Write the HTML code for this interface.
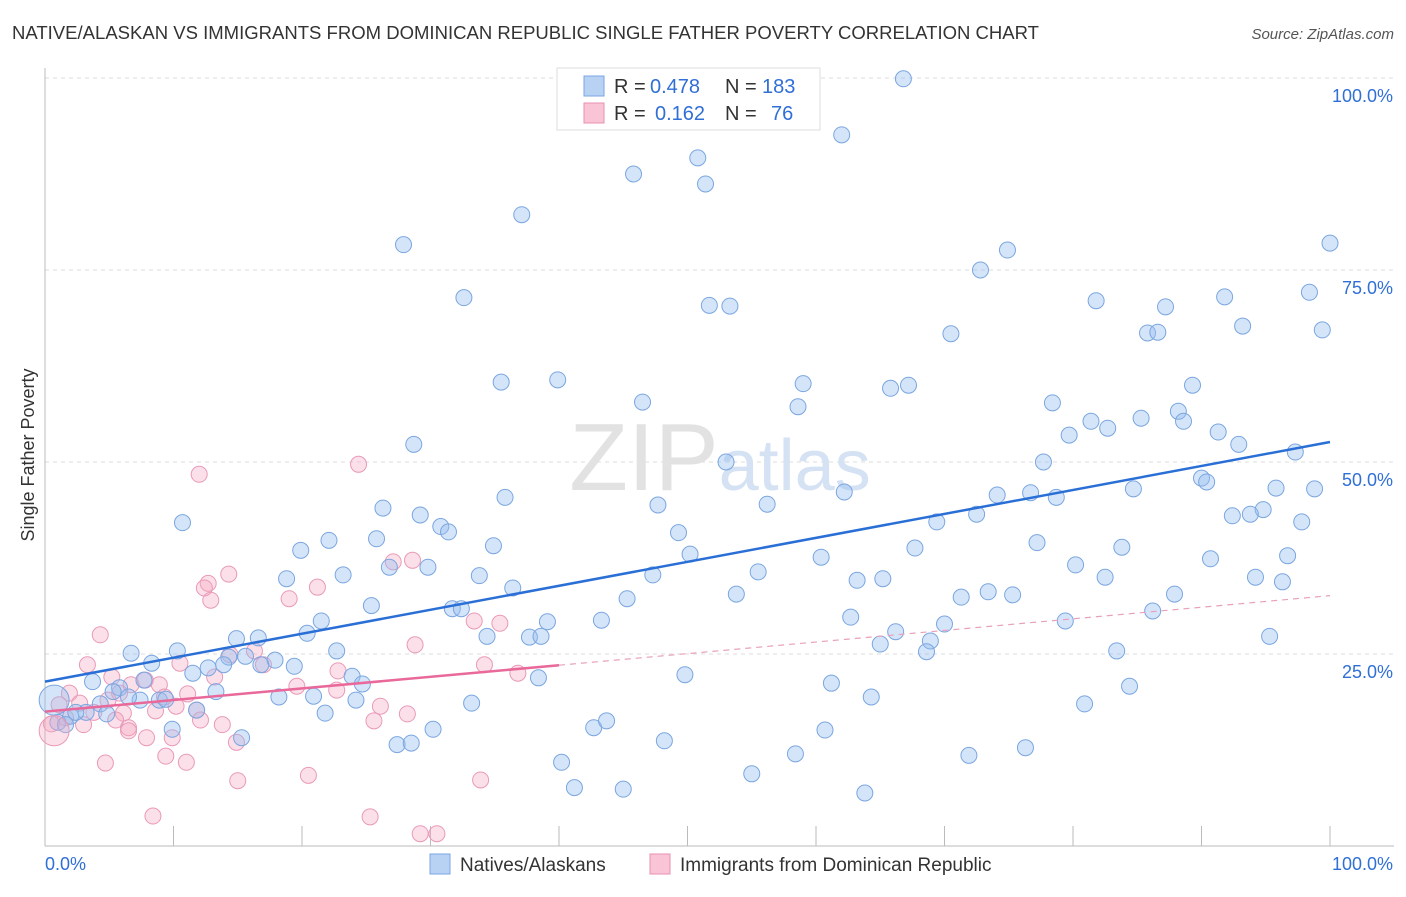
<!DOCTYPE html>
<html><head><meta charset="utf-8">
<style>
body{margin:0;background:#fff;font-family:"Liberation Sans",sans-serif;}
svg text{font-family:"Liberation Sans",sans-serif;}
</style></head>
<body>
<svg id="chart" width="1406" height="892" viewBox="0 0 1406 892">
<text x="12" y="39" font-size="18" fill="#333" textLength="1027" lengthAdjust="spacingAndGlyphs">NATIVE/ALASKAN VS IMMIGRANTS FROM DOMINICAN REPUBLIC SINGLE FATHER POVERTY CORRELATION CHART</text>
<text x="1394" y="39" font-size="15" fill="#555" font-style="italic" text-anchor="end">Source: ZipAtlas.com</text>
<text x="34" y="455" font-size="18" fill="#333" text-anchor="middle" transform="rotate(-90 34 455)">Single Father Poverty</text>
<g id="grid"></g>
<text x="720" y="490" font-size="96" text-anchor="middle" font-family="Liberation Serif"><tspan fill="#e2e2e2">ZIP</tspan><tspan fill="#d4e2f4" font-family="Liberation Sans" font-size="72">atlas</tspan></text>
<g id="pts"></g>
<g id="lines"></g>
<g>
<rect x="557" y="68" width="263" height="62" fill="#fff" stroke="#ddd"/>
<rect x="584" y="76" width="20" height="20" fill="#b8d2f4" stroke="#7aa6e0"/>
<rect x="584" y="103" width="20" height="20" fill="#f8c4d6" stroke="#e890b0"/>
<text x="614" y="93" font-size="20" fill="#333">R =</text>
<text x="650" y="93" font-size="20" fill="#2f6fd6">0.478</text>
<text x="725" y="93" font-size="20" fill="#333">N =</text>
<text x="762" y="93" font-size="20" fill="#2f6fd6">183</text>
<text x="614" y="120" font-size="20" fill="#333">R =</text>
<text x="655" y="120" font-size="20" fill="#2f6fd6">0.162</text>
<text x="725" y="120" font-size="20" fill="#333">N =</text>
<text x="771" y="120" font-size="20" fill="#2f6fd6">76</text>
</g>
<g>
<rect x="430" y="854" width="20" height="20" fill="#b8d2f4" stroke="#7aa6e0"/>
<text x="460" y="871" font-size="19" fill="#333">Natives/Alaskans</text>
<rect x="650" y="854" width="20" height="20" fill="#f8c4d6" stroke="#e890b0"/>
<text x="680" y="871" font-size="19" fill="#333">Immigrants from Dominican Republic</text>
</g>
</svg>
<script>
const blueX=[66.8,62.0,50.8,45.8,51.4,37.1,27.9,100,74.9,72.8,32.6,51.7,53.3,81.8,87.2,91.8,98.4,99.4,70.5,85.8,86.6,93.2,35.5,39.9,59.0,65.8,67.2,89.3,46.5,58.6,78.4,81.4,85.3,88.2,79.7,82.7,88.6,91.3,92.9,97.3,28.7,53.0,77.7,90.0,90.4,84.7,95.8,98.8,62.2,74.1,76.7,78.7,35.8,47.7,56.2,94.8,93.8,92.4,72.5,26.3,29.2,10.7,30.8,31.4,69.4,97.8,25.8,22.1,49.3,77.2,19.9,34.9,50.2,67.7,83.8,96.7,60.4,90.7,80.2,26.8,29.8,55.5,47.3,18.8,23.2,33.8,63.2,65.2,82.5,94.2,96.3,36.4,53.8,71.3,73.4,75.3,87.9,45.3,86.2,25.4,31.7,32.4,43.3,62.7,79.4,21.5,39.1,70.0,20.4,34.4,37.7,38.6,66.2,95.3,14.9,16.6,68.9,65.0,6.7,10.3,22.7,68.6,83.4,8.3,15.6,17.9,14.3,19.4,13.9,12.7,11.5,23.9,24.7,16.8,7.7,49.8,38.4,3.7,61.2,84.4,5.8,5.3,13.3,18.2,20.9,64.3,7.4,6.5,8.9,4.3,9.4,24.2,33.2,80.9,11.8,21.8,3.2,4.8,2.0,2.4,1.0,1.6,9.9,30.2,42.7,43.7,60.7,15.3,48.2,27.4,28.5,76.3,58.4,71.9,40.2,55.0,41.2,45.0,63.8];
const blueY=[99.9,92.6,89.6,87.5,86.2,82.2,78.3,78.5,77.6,75.0,71.4,70.4,70.3,71.0,70.2,71.5,72.1,67.2,66.7,66.8,66.9,67.7,60.4,60.7,60.2,59.6,60.0,60.0,57.8,57.2,57.7,55.3,55.7,56.6,53.5,54.4,55.3,53.9,52.3,51.3,52.3,50.0,50.0,47.9,47.4,46.5,46.6,46.5,46.1,45.7,46.0,45.4,45.4,44.4,44.5,43.8,43.2,43.0,43.2,44.0,43.1,42.1,41.6,40.9,42.2,42.2,40.0,39.8,40.8,39.5,38.5,39.1,38.0,38.8,38.9,37.8,37.6,37.4,36.6,36.3,36.3,35.7,35.3,34.8,35.3,35.2,34.6,34.8,35.0,35.0,34.4,33.6,32.8,32.4,33.1,32.7,32.8,32.2,30.6,31.3,30.9,30.9,29.4,29.8,29.3,29.3,29.2,28.9,27.7,27.3,27.2,27.3,27.9,27.3,27.0,27.1,26.7,26.3,25.1,25.4,25.4,25.3,25.4,23.8,24.7,24.2,24.6,23.4,23.6,23.2,22.5,22.1,21.1,23.6,21.6,22.3,21.9,21.4,21.2,20.8,20.6,20.1,20.1,19.4,19.5,19.4,19.0,19.4,19.0,18.5,19.1,19.0,18.6,18.5,17.7,17.3,17.4,17.2,16.9,17.4,16.1,15.8,15.2,15.2,15.4,16.3,15.1,14.1,13.7,13.2,13.4,12.8,12.0,11.8,10.9,9.4,7.6,7.4,6.9];
const pinkX=[24.4,12.0,14.3,12.7,12.4,12.9,19.0,21.2,27.1,28.6,4.3,28.8,33.4,35.4,3.3,10.5,16.3,14.4,17.0,22.8,34.2,36.8,5.2,6.7,7.8,1.9,5.8,8.9,11.1,13.2,19.6,22.7,9.3,4.9,1.1,2.7,3.8,10.2,11.8,8.6,6.1,26.1,28.2,1.6,5.5,12.1,25.6,0.5,3.0,13.8,6.5,6.5,7.9,9.9,14.9,9.4,4.7,11.0,20.5,15.0,33.9,8.4,25.3,29.2,30.5];
const pinkY=[49.7,48.4,35.4,34.2,33.6,32.0,32.2,33.7,37.0,37.2,27.5,26.2,29.3,29.0,23.6,23.8,25.4,24.9,23.6,22.8,23.6,22.5,22.0,21.0,21.6,19.9,19.9,21.0,19.8,22.0,20.8,20.3,19.4,19.0,18.4,18.6,17.4,18.2,17.7,17.6,17.3,18.2,17.2,16.7,16.4,16.4,16.3,15.9,15.8,15.8,15.4,15.0,14.1,14.1,13.5,11.7,10.8,10.9,9.2,8.5,8.6,3.9,3.8,1.6,1.6];
const bigX=[0.4,0.4];
const bigY=[19.0,15.0];
const blueTrend=[21.4,52.6];
const pinkTrend=[17.5,32.6];
const pinkSolidEnd=40;
const xTicks=[0,10,20,30,40,50,60,70,80,90,100];
const yTicks=[25,50,75,100];
const yTickLabels=["25.0%","50.0%","75.0%","100.0%"];

const NS="http://www.w3.org/2000/svg";
const sx=v=>45+v*12.85;
const sy=v=>846-v*7.68;
function mk(tag,attrs,parent){const e=document.createElementNS(NS,tag);for(const k in attrs)e.setAttribute(k,attrs[k]);parent.appendChild(e);return e;}
const grid=document.getElementById('grid');
yTicks.forEach((t,i)=>{
  const l=mk('line',{x1:45,x2:1394,y1:sy(t),y2:sy(t),stroke:'#ddd','stroke-dasharray':'4,4'},grid);
  
  
  const tx=mk('text',{x:1393,y:sy(t)+24,'font-size':18,fill:'#2f6fd6','text-anchor':'end'},grid);
  tx.textContent=yTickLabels[i];
  
  
});
const ax=mk('line',{x1:45,x2:45,y1:68,y2:846,stroke:'#bbb'},grid);


const bx=mk('line',{x1:45,x2:1394,y1:846,y2:846,stroke:'#bbb'},grid);


xTicks.forEach(t=>{
  const l=mk('line',{x1:sx(t),x2:sx(t),y1:826,y2:846,stroke:'#bbb'},grid);
  
  
});
const xl0=mk('text',{x:45,y:870,'font-size':18,fill:'#2f6fd6'},grid);xl0.textContent='0.0%';


const xl1=mk('text',{x:1393,y:870,'font-size':18,fill:'#2f6fd6','text-anchor':'end'},grid);xl1.textContent='100.0%';



const pts=document.getElementById('pts');
pinkX.forEach((x,i)=>{
  const c=mk('circle',{cx:sx(x),cy:sy(pinkY[i]),r:8,fill:'rgba(245,165,192,0.35)',stroke:'#e99ab8','stroke-width':1},pts);
  
  
});
blueX.forEach((x,i)=>{
  const c=mk('circle',{cx:sx(x),cy:sy(blueY[i]),r:8,fill:'rgba(150,190,240,0.4)',stroke:'#7aa6e0','stroke-width':1},pts);
  
  
});
bigX.forEach((x,i)=>{
  const c=mk('circle',{cx:sx(x)+4,cy:sy(bigY[i]),r:15,fill:i?'rgba(245,165,192,0.35)':'rgba(150,190,240,0.4)',stroke:i?'#e99ab8':'#7aa6e0'},pts);
  
  
});
const lines=document.getElementById('lines');
const bl=mk('line',{x1:sx(0),y1:sy(blueTrend[0]),x2:sx(100),y2:sy(blueTrend[1]),stroke:'#2a6fd6','stroke-width':2.5},lines);


const pAt=v=>pinkTrend[0]+(pinkTrend[1]-pinkTrend[0])*v/100;
const pl=mk('line',{x1:sx(0),y1:sy(pAt(0)),x2:sx(pinkSolidEnd),y2:sy(pAt(pinkSolidEnd)),stroke:'#e8699a','stroke-width':2.5},lines);


const pd=mk('line',{x1:sx(pinkSolidEnd),y1:sy(pAt(pinkSolidEnd)),x2:sx(100),y2:sy(pAt(100)),stroke:'#e8a0bc','stroke-width':1.2,'stroke-dasharray':'6,5'},lines);


</script>
</body></html>
